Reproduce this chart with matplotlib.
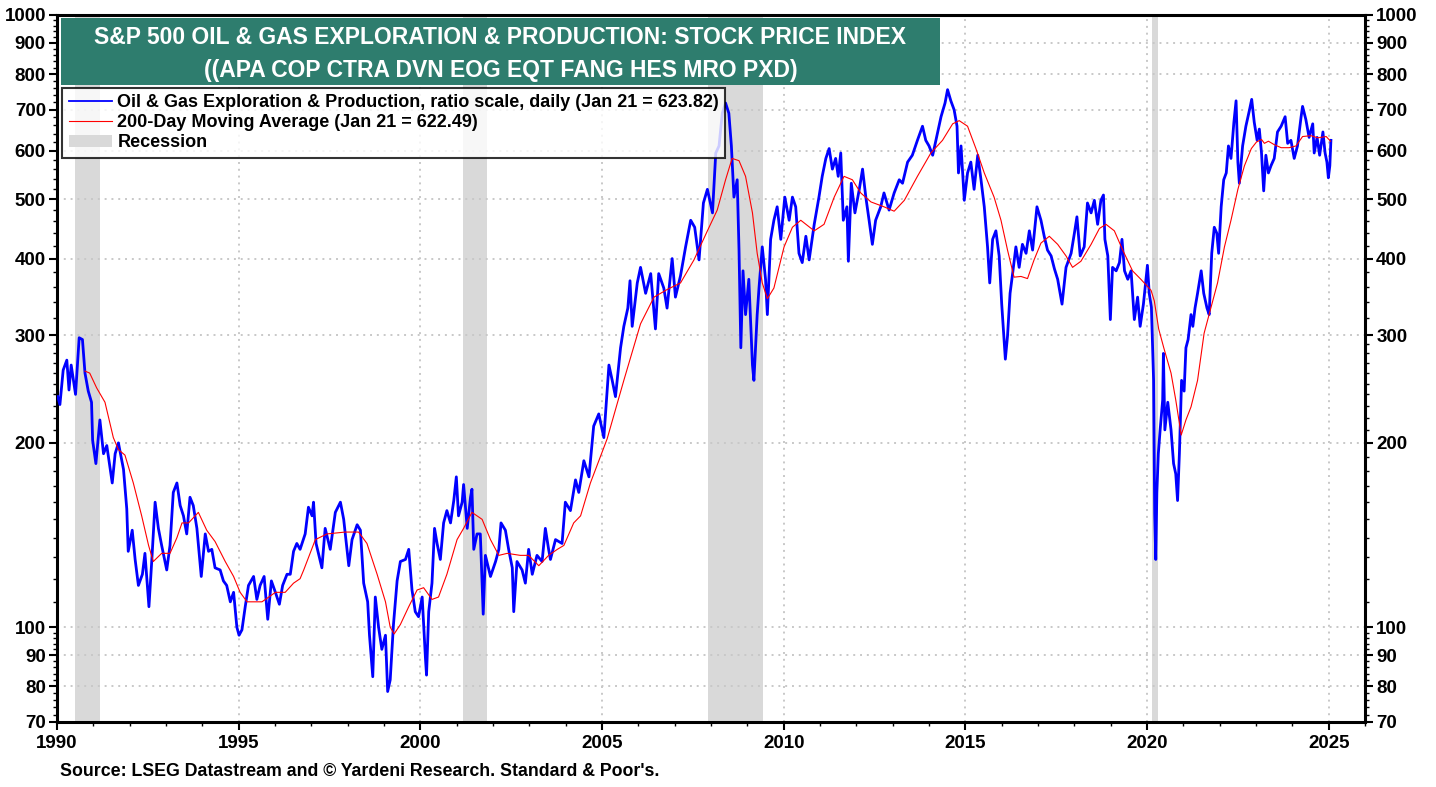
import numpy as np
import matplotlib
matplotlib.use("Agg")
import matplotlib.pyplot as plt
from matplotlib.lines import Line2D
from matplotlib.patches import Patch, Rectangle
from matplotlib.ticker import FixedLocator, NullFormatter

plt.rcParams['font.family'] = ['Liberation Sans', 'DejaVu Sans']
plt.rcParams['font.weight'] = 'bold'

# daily index (ratio scale)
blue_t = [1990.02, 1990.08, 1990.17, 1990.27, 1990.33, 1990.39, 1990.51, 1990.61, 1990.70, 1990.77,
          1990.86, 1990.95, 1990.98, 1991.07, 1991.18, 1991.28, 1991.37, 1991.52, 1991.60, 1991.69,
          1991.83, 1991.92, 1991.96, 1992.07, 1992.15, 1992.24, 1992.35, 1992.42, 1992.53, 1992.61,
          1992.70, 1992.79, 1992.88, 1993.02, 1993.11, 1993.20, 1993.30, 1993.39, 1993.48, 1993.57,
          1993.66, 1993.75, 1993.85, 1993.97, 1994.08, 1994.17, 1994.26, 1994.35, 1994.49, 1994.58,
          1994.67, 1994.77, 1994.86, 1994.95, 1995.01, 1995.09, 1995.18, 1995.27, 1995.41, 1995.50,
          1995.59, 1995.70, 1995.80, 1995.90, 1996.01, 1996.12, 1996.21, 1996.33, 1996.42, 1996.51,
          1996.60, 1996.69, 1996.83, 1996.92, 1997.02, 1997.06, 1997.13, 1997.29, 1997.38, 1997.52,
          1997.66, 1997.80, 1997.89, 1998.03, 1998.12, 1998.26, 1998.35, 1998.44, 1998.55, 1998.60,
          1998.69, 1998.76, 1998.85, 1998.94, 1999.04, 1999.10, 1999.17, 1999.26, 1999.36, 1999.45,
          1999.59, 1999.68, 1999.77, 1999.86, 1999.95, 2000.05, 2000.14, 2000.17, 2000.23, 2000.32,
          2000.39, 2000.46, 2000.55, 2000.64, 2000.73, 2000.83, 2000.92, 2000.99, 2001.05, 2001.15,
          2001.19, 2001.29, 2001.38, 2001.42, 2001.47, 2001.56, 2001.65, 2001.73, 2001.79, 2001.93,
          2002.07, 2002.16, 2002.22, 2002.34, 2002.43, 2002.53, 2002.57, 2002.66, 2002.80, 2002.89,
          2002.98, 2003.08, 2003.21, 2003.35, 2003.44, 2003.53, 2003.58, 2003.72, 2003.90, 2003.99,
          2004.13, 2004.27, 2004.36, 2004.50, 2004.64, 2004.77, 2004.91, 2005.05, 2005.19, 2005.28,
          2005.37, 2005.51, 2005.60, 2005.71, 2005.77, 2005.83, 2005.97, 2006.06, 2006.20, 2006.34,
          2006.47, 2006.56, 2006.70, 2006.79, 2006.93, 2007.02, 2007.16, 2007.30, 2007.44, 2007.55,
          2007.67, 2007.79, 2007.90, 2008.04, 2008.13, 2008.22, 2008.31, 2008.40, 2008.49, 2008.56,
          2008.63, 2008.72, 2008.77, 2008.82, 2008.88, 2008.95, 2009.04, 2009.14, 2009.18, 2009.27,
          2009.32, 2009.41, 2009.50, 2009.55, 2009.64, 2009.73, 2009.82, 2009.92, 2010.03, 2010.15,
          2010.24, 2010.33, 2010.42, 2010.51, 2010.61, 2010.70, 2010.84, 2010.97, 2011.06, 2011.16,
          2011.25, 2011.34, 2011.43, 2011.50, 2011.57, 2011.64, 2011.74, 2011.78, 2011.86, 2011.96,
          2012.08, 2012.17, 2012.26, 2012.35, 2012.44, 2012.53, 2012.67, 2012.76, 2012.90, 2013.04,
          2013.18, 2013.27, 2013.41, 2013.54, 2013.68, 2013.82, 2013.91, 2014.00, 2014.10, 2014.19,
          2014.33, 2014.44, 2014.51, 2014.60, 2014.69, 2014.77, 2014.81, 2014.88, 2014.97, 2015.06,
          2015.15, 2015.24, 2015.34, 2015.43, 2015.52, 2015.61, 2015.67, 2015.75, 2015.84, 2015.93,
          2016.00, 2016.07, 2016.10, 2016.16, 2016.23, 2016.30, 2016.39, 2016.48, 2016.57, 2016.67,
          2016.76, 2016.85, 2016.97, 2017.08, 2017.17, 2017.26, 2017.36, 2017.45, 2017.54, 2017.66,
          2017.77, 2017.91, 2018.00, 2018.07, 2018.16, 2018.27, 2018.36, 2018.46, 2018.55, 2018.64,
          2018.73, 2018.80, 2018.84, 2018.92, 2018.99, 2019.05, 2019.15, 2019.24, 2019.31, 2019.38,
          2019.47, 2019.56, 2019.65, 2019.74, 2019.81, 2019.90, 2020.01, 2020.06, 2020.12, 2020.18,
          2020.21, 2020.24, 2020.27, 2020.31, 2020.36, 2020.43, 2020.45, 2020.49, 2020.57, 2020.66,
          2020.73, 2020.79, 2020.84, 2020.89, 2020.95, 2021.02, 2021.07, 2021.13, 2021.21, 2021.26,
          2021.32, 2021.39, 2021.49, 2021.56, 2021.65, 2021.71, 2021.78, 2021.85, 2021.92, 2021.97,
          2022.04, 2022.11, 2022.18, 2022.24, 2022.31, 2022.39, 2022.45, 2022.50, 2022.54, 2022.63,
          2022.72, 2022.82, 2022.88, 2022.95, 2023.03, 2023.09, 2023.15, 2023.21, 2023.27, 2023.34,
          2023.41, 2023.50, 2023.59, 2023.69, 2023.80, 2023.87, 2023.96, 2024.05, 2024.14, 2024.24,
          2024.28, 2024.37, 2024.46, 2024.56, 2024.60, 2024.68, 2024.75, 2024.84, 2024.90, 2024.95,
          2024.99, 2025.03, 2025.06]
blue_v = [238, 231, 263, 273, 244, 268, 240, 297, 295, 260,
          243, 233, 202, 185, 218, 192, 198, 172, 192, 200,
          181, 156, 133, 144, 129, 117, 122, 132, 108, 129,
          160, 145, 136, 124, 136, 166, 172, 158, 152, 142,
          163, 158, 145, 121, 142, 133, 134, 125, 124, 119,
          117, 110, 114, 100, 97, 99, 108, 117, 121, 111,
          117, 121, 103, 119, 114, 109, 117, 122, 122, 133,
          137, 134, 142, 157, 152, 160, 137, 125, 145, 134,
          154, 160, 150, 126, 139, 147, 144, 118, 110, 97,
          83, 112, 100, 92, 97, 78.5, 82, 101, 119, 128,
          129, 134, 115, 106, 104, 112, 89, 83.5, 106, 118,
          145, 137, 129, 148, 155, 148, 161, 176, 152, 160,
          171, 145, 163, 168, 134, 142, 142, 105, 131, 121,
          128, 134, 148, 144, 134, 125, 106, 128, 124, 118,
          134, 122, 131, 128, 145, 134, 129, 139, 137, 160,
          155, 174, 166, 187, 176, 213, 223, 204, 268, 253,
          238, 286, 310, 332, 368, 310, 365, 387, 351, 378,
          307, 378, 358, 332, 400, 346, 375, 418, 462, 450,
          398, 493, 519, 475, 595, 611, 691, 718, 691, 611,
          504, 538, 413, 286, 382, 324, 370, 268, 253, 324,
          358, 418, 370, 324, 430, 462, 486, 430, 504, 462,
          504, 486, 408, 394, 435, 398, 455, 504, 545, 583,
          605, 560, 583, 545, 595, 462, 486, 396, 531, 475,
          519, 560, 504, 462, 422, 462, 486, 512, 480, 512,
          538, 531, 575, 590, 624, 658, 624, 611, 590, 624,
          682, 718, 755, 724, 700, 658, 552, 611, 498, 552,
          575, 519, 590, 538, 486, 418, 365, 430, 444, 404,
          337, 291, 274, 299, 351, 378, 418, 387, 422, 408,
          444, 413, 486, 462, 435, 413, 404, 385, 370, 337,
          387, 408, 440, 468, 404, 418, 493, 475, 498, 455,
          498, 508, 430, 404, 318, 387, 382, 394, 430, 382,
          370, 382, 318, 346, 310, 337, 390, 351, 333, 253,
          153, 129, 166, 192, 210, 235, 280, 210, 233, 210,
          185, 178, 161, 192, 253, 243, 286, 295, 324, 310,
          332, 351, 382, 351, 332, 324, 408, 450, 440, 408,
          486, 538, 552, 611, 583, 668, 724, 575, 531, 611,
          658, 700, 728, 668, 624, 651, 595, 516, 590, 552,
          567, 583, 644, 658, 682, 617, 624, 583, 611, 682,
          709, 675, 631, 664, 595, 631, 590, 644, 595, 575,
          542, 567, 624]

# 200-day moving average
red_t = [1990.77, 1990.90, 1991.09, 1991.32, 1991.55, 1991.69, 1991.87, 1992.10, 1992.33, 1992.52,
         1992.65, 1992.88, 1993.11, 1993.30, 1993.44, 1993.62, 1993.89, 1994.12, 1994.35, 1994.63,
         1994.86, 1995.04, 1995.23, 1995.45, 1995.64, 1995.83, 1996.01, 1996.28, 1996.51, 1996.69,
         1996.79, 1997.11, 1997.43, 1997.93, 1998.30, 1998.53, 1998.81, 1999.04, 1999.17, 1999.28,
         1999.45, 1999.68, 1999.91, 2000.09, 2000.32, 2000.50, 2000.73, 2001.01, 2001.19, 2001.42,
         2001.70, 2001.93, 2002.16, 2002.39, 2002.75, 2002.98, 2003.26, 2003.53, 2003.77, 2003.95,
         2004.22, 2004.41, 2004.68, 2005.14, 2005.60, 2006.06, 2006.43, 2006.79, 2007.16, 2007.53,
         2007.90, 2008.17, 2008.40, 2008.58, 2008.77, 2008.95, 2009.14, 2009.27, 2009.41, 2009.55,
         2009.73, 2010.01, 2010.24, 2010.47, 2010.84, 2011.11, 2011.39, 2011.66, 2011.89, 2012.12,
         2012.40, 2012.76, 2013.04, 2013.32, 2013.68, 2014.05, 2014.37, 2014.65, 2014.83, 2015.06,
         2015.29, 2015.52, 2015.79, 2015.98, 2016.16, 2016.34, 2016.53, 2016.71, 2016.89, 2017.08,
         2017.31, 2017.54, 2017.77, 2017.95, 2018.18, 2018.46, 2018.69, 2018.87, 2019.10, 2019.33,
         2019.60, 2019.83, 2020.11, 2020.20, 2020.32, 2020.46, 2020.66, 2020.79, 2020.94, 2021.07,
         2021.21, 2021.39, 2021.57, 2021.76, 2021.94, 2022.13, 2022.31, 2022.50, 2022.68, 2022.87,
         2023.01, 2023.15, 2023.23, 2023.34, 2023.50, 2023.69, 2023.91, 2024.10, 2024.28, 2024.51,
         2024.70, 2024.93, 2025.05]
red_v = [262, 260, 246, 233, 204, 195, 191, 172, 152, 136,
         128, 132, 132, 140, 148, 148, 154, 144, 138, 128,
         121, 114, 110, 110, 110, 112, 114, 114, 118, 120,
         124, 139, 142, 143, 143, 137, 122, 110, 100, 97.5,
         101, 108, 115, 116, 111, 112, 122, 139, 145, 154,
         150, 139, 131, 132, 131, 131, 126, 131, 134, 136,
         148, 152, 172, 203, 253, 313, 346, 356, 365, 398,
         444, 480, 538, 583, 578, 545, 475, 408, 365, 344,
         358, 418, 450, 462, 444, 455, 504, 545, 538, 512,
         495, 486, 478, 498, 545, 595, 624, 664, 672, 658,
         605, 552, 504, 462, 413, 373, 374, 371, 398, 424,
         435, 422, 404, 387, 396, 422, 448, 455, 444, 413,
         382, 370, 355, 341, 307, 286, 260, 235, 206, 218,
         229, 253, 302, 333, 365, 418, 462, 519, 567, 605,
         620, 626, 617, 622, 614, 607, 607, 611, 633, 635,
         630, 633, 622]

# recessions (start, end)
rec_start = [1990.50, 2001.17, 2007.92, 2020.13]
rec_end = [1991.17, 2001.83, 2009.42, 2020.29]

y_ticks = [70, 80, 90, 100, 200, 300, 400, 500, 600, 700, 800, 900, 1000]
x_ticks = [1990, 1995, 2000, 2005, 2010, 2015, 2020, 2025]

fig = plt.figure(figsize=(14.36, 7.87), dpi=100)
ax = fig.add_axes([0.0397, 0.0826, 0.9109, 0.8984])

for s, e in zip(rec_start, rec_end):
    ax.axvspan(s, e, color='#d9d9d9', lw=0, zorder=0)

ax.plot(blue_t, blue_v, color='#0000ff', lw=2.0, zorder=3)
ax.plot(red_t, red_v, color='#ff0000', lw=0.8, zorder=4)

ax.set_yscale('log')
ax.set_ylim(70, 1000)
ax.set_xlim(1990, 2026)

ax.yaxis.set_major_locator(FixedLocator(y_ticks))
ax.set_yticklabels([str(v) for v in y_ticks])
minor_y = list(range(72, 100, 2)) + list(range(110, 300, 10)) + list(range(320, 1000, 20))
minor_y = [v for v in minor_y if v not in y_ticks]
ax.yaxis.set_minor_locator(FixedLocator(minor_y))
ax.yaxis.set_minor_formatter(NullFormatter())
ax.xaxis.set_major_locator(FixedLocator(x_ticks))
ax.set_xticklabels([str(v) for v in x_ticks])
ax.xaxis.set_minor_locator(FixedLocator(list(range(1990, 2027))))

ax.tick_params(axis='both', which='major', direction='out', length=6, width=1.5,
               labelsize=13.5, colors='black')
ax.tick_params(axis='both', which='minor', direction='out', length=3, width=1)
ax.tick_params(axis='y', which='both', left=True, right=True, labelleft=True, labelright=True)
ax.tick_params(axis='y', which='major', pad=2)
for lab in ax.get_xticklabels() + ax.get_yticklabels():
    lab.set_fontweight('bold')

ax.grid(True, which='major', color='#c8c8c8', linestyle=(0, (1, 2.5)), lw=1.4)
for sp in ax.spines.values():
    sp.set_linewidth(2.2)
    sp.set_color('black')

# title box
ax.add_patch(Rectangle((0.003, 0.901), 0.672, 0.095, transform=ax.transAxes,
                       facecolor='#2e7d6e', edgecolor='none', zorder=6))
ax.text(0.339, 0.968, 'S&P 500 OIL & GAS EXPLORATION & PRODUCTION: STOCK PRICE INDEX',
        transform=ax.transAxes, ha='center', va='center', color='white',
        fontsize=16.5, fontweight='bold', zorder=7)
ax.text(0.339, 0.922, '((APA COP CTRA DVN EOG EQT FANG HES MRO PXD)',
        transform=ax.transAxes, ha='center', va='center', color='white',
        fontsize=16.5, fontweight='bold', zorder=7)

handles = [Line2D([], [], color='#0000ff', lw=1.3),
           Line2D([], [], color='#ff0000', lw=0.8),
           Patch(facecolor='#d9d9d9', edgecolor='none')]
labels = ['Oil & Gas Exploration & Production, ratio scale, daily (Jan 21 = 623.82)',
          '200-Day Moving Average (Jan 21 = 622.49)',
          'Recession']
leg = ax.legend(handles, labels, loc='upper left', bbox_to_anchor=(0.004, 0.897),
                prop={'weight': 'bold', 'size': 13}, frameon=True, fancybox=False,
                borderpad=0.35, labelspacing=0.17, handlelength=2.4, handletextpad=0.3,
                borderaxespad=0)
leg.get_frame().set_edgecolor('black')
leg.get_frame().set_linewidth(1.5)
leg.set_zorder(8)

fig.text(0.042, 0.009, "Source: LSEG Datastream and \u00a9 Yardeni Research. Standard & Poor's.",
         fontsize=12.8, fontweight='bold', ha='left', va='bottom')

fig.savefig('out.png', dpi=100)
